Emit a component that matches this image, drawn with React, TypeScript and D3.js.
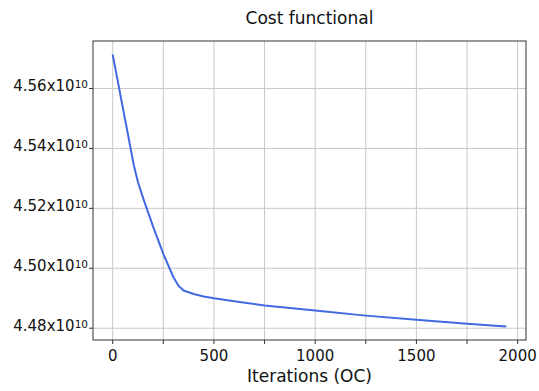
import * as d3 from 'd3'

// iterations and cost (x 1e10)
const iterations = [0, 25, 50, 75, 105, 125, 150, 200, 250, 300, 325, 350, 400, 450, 500, 600, 750, 900, 1000, 1250, 1500, 1750, 1944]
const cost = [4.5713, 4.5625, 4.5536, 4.5448, 4.5342, 4.5287, 4.5235, 4.5138, 4.5048, 4.4970, 4.4942, 4.4926, 4.4914, 4.4906, 4.4900, 4.4890, 4.4876, 4.4866, 4.4859, 4.4842, 4.4828, 4.4815, 4.4806]
const xTicks = [0, 500, 1000, 1500, 2000]
const xMinorTicks = [250, 750, 1250, 1750]
const yTicks = [4.48, 4.50, 4.52, 4.54, 4.56]

const W = 539, H = 391
const margin = { left: 93, right: 13, top: 41, bottom: 51 }

const App = () => {
    const pts = iterations.map((it, i) => ({ it, v: cost[i] }))

    // matplotlib-style 5% padding
    const [x0, x1] = d3.extent(iterations) as [number, number]
    const [y0, y1] = d3.extent(cost) as [number, number]
    const px = (x1 - x0) * 0.05, py = (y1 - y0) * 0.05

    const x = d3.scaleLinear().domain([x0 - px, x1 + px]).range([margin.left, W - margin.right])
    const y = d3.scaleLinear().domain([y0 - py, y1 + py]).range([H - margin.bottom, margin.top])

    const line = d3.line<{ it: number, v: number }>()
        .x(d => x(d.it))
        .y(d => y(d.v))

    const font = "'DejaVu Sans', sans-serif"
    const plotW = W - margin.left - margin.right
    const plotH = H - margin.top - margin.bottom
    const bottom = H - margin.bottom

    return (
        <svg width={W} height={H} style={{ position: 'absolute', left: 0, top: 0, background: '#fff' }} fontFamily={font}>
            {/* grid */}
            {[...xTicks, ...xMinorTicks].filter(t => x(t) <= W - margin.right).map(t => (
                <line key={'gx' + t} x1={x(t)} x2={x(t)} y1={margin.top} y2={bottom} stroke="#c8c8c8" strokeWidth={1} />
            ))}
            {yTicks.map(t => (
                <line key={'gy' + t} x1={margin.left} x2={W - margin.right} y1={y(t)} y2={y(t)} stroke="#c8c8c8" strokeWidth={1} />
            ))}

            <path d={line(pts) ?? ''} fill="none" stroke="#4169e1" strokeWidth={2} strokeLinejoin="round" />

            <rect x={margin.left} y={margin.top} width={plotW} height={plotH} fill="none" stroke="#333" strokeWidth={1} />

            {/* x axis */}
            {[...xTicks, ...xMinorTicks].map(t => (
                <line key={'tx' + t} x1={x(t)} x2={x(t)} y1={bottom} y2={bottom + 4} stroke="#333" />
            ))}
            {xTicks.map(t => (
                <text key={'lx' + t} x={x(t)} y={bottom + 21} textAnchor="middle" fontSize={15} fill="#111">{t}</text>
            ))}
            <text x={margin.left + plotW / 2} y={H - 9} textAnchor="middle" fontSize={17} fill="#111">Iterations (OC)</text>

            {/* y axis */}
            {yTicks.map(t => (
                <g key={'ly' + t}>
                    <line x1={margin.left - 4} x2={margin.left} y1={y(t)} y2={y(t)} stroke="#333" />
                    <text x={margin.left - 5} y={y(t) + 3} textAnchor="end" fontSize={15} fill="#111">
                        {d3.format('.2f')(t)}x10<tspan fontSize={10.5} dy={-3}>10</tspan>
                    </text>
                </g>
            ))}

            <text x={margin.left + plotW / 2} y={24} textAnchor="middle" fontSize={17} fill="#111">Cost functional</text>
        </svg>
    )
}

export default App
